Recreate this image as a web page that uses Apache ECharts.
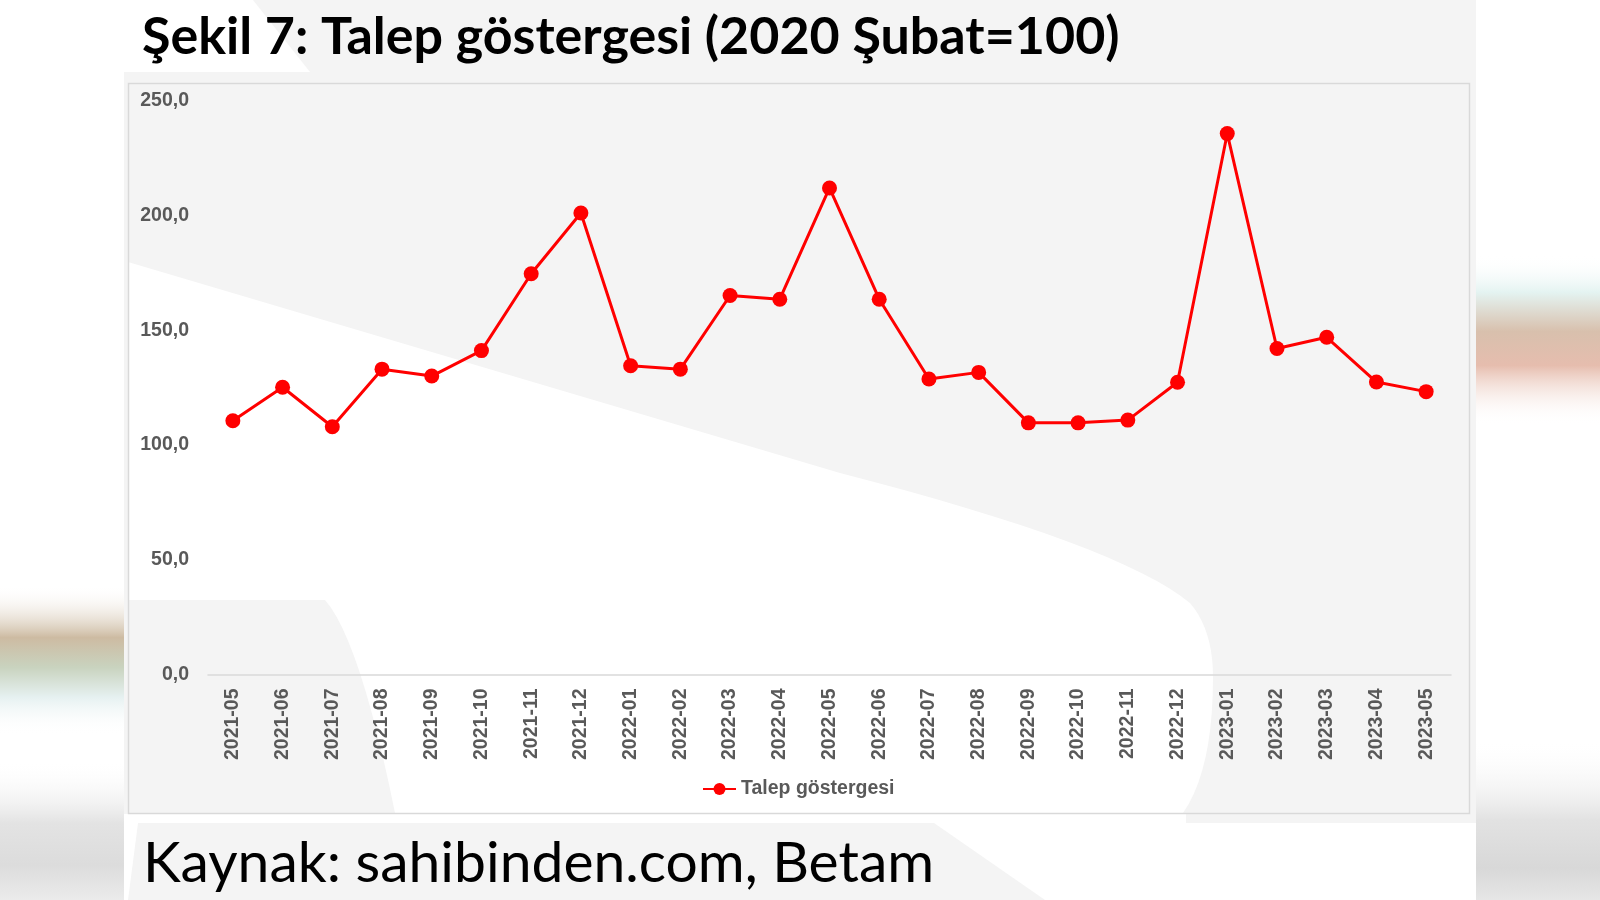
<!DOCTYPE html>
<html>
<head>
<meta charset="utf-8">
<script src="https://cdn.jsdelivr.net/npm/echarts@6/dist/echarts.min.js"></script>
<style>html,body{margin:0;padding:0;background:#fff;}#main{width:1600px;height:900px;}</style>
</head>
<body>
<div id="main"></div>
<script>
const categories = ['2021-05','2021-06','2021-07','2021-08','2021-09','2021-10','2021-11','2021-12','2022-01','2022-02','2022-03','2022-04','2022-05','2022-06','2022-07','2022-08','2022-09','2022-10','2022-11','2022-12','2023-01','2023-02','2023-03','2023-04','2023-05'];
const talepValues = [110.6,125.2,108.0,133.1,130.1,141.2,174.7,201.2,134.6,133.1,165.2,163.6,212.1,163.6,128.8,131.7,109.7,109.7,110.9,127.4,235.8,142.1,147.0,127.5,123.3];
const seriesName = 'Talep göstergesi';
const titleText = 'Şekil 7: Talep göstergesi (2020 Şubat=100)';
const sourceText = 'Kaynak: sahibinden.com, Betam';
const yTicks = {min: 0, max: 250, interval: 50};

const chart = echarts.init(document.getElementById('main'), null, {renderer: 'canvas'});
const axisFont = {fontFamily: '"Liberation Sans", Arial, sans-serif', fontWeight: 'bold', color: '#595959', fontSize: 19.5};

// decorative slide background (not data)
function quad(p0, p1, p2, n) {
  const out = [];
  for (let i = 1; i <= n; i++) {
    const t = i / n, u = 1 - t;
    out.push([u*u*p0[0] + 2*u*t*p1[0] + t*t*p2[0], u*u*p0[1] + 2*u*t*p1[1] + t*t*p2[1]]);
  }
  return out;
}
let wedge = [[128,262],[840,473]];
wedge = wedge.concat(quad([840,473],[1120,545],[1190,603],16));
wedge = wedge.concat(quad([1190,603],[1213,630],[1213,677],10));
wedge = wedge.concat(quad([1213,677],[1213,770],[1183,813],10));
wedge.push([395,813]);
wedge = wedge.concat(quad([395,813],[360,640],[325,600],12));
wedge.push([128,600]);

function vgrad(stops) {
  return {type: 'linear', x: 0, y: 0, x2: 0, y2: 1, colorStops: stops};
}

const bg = [
  {type: 'rect', z: -100, silent: true, shape: {x: 0, y: 585, width: 124, height: 150},
   style: {fill: vgrad([
     {offset:0,color:'rgba(255,255,255,0)'},{offset:0.35,color:'#cdbba2'},{offset:0.55,color:'#c9d3bf'},
     {offset:0.75,color:'#e6f1f1'},{offset:1,color:'rgba(255,255,255,0)'}])}},
  {type: 'rect', z: -100, silent: true, shape: {x: 0, y: 760, width: 124, height: 140},
   style: {fill: vgrad([
     {offset:0,color:'rgba(255,255,255,0)'},{offset:0.45,color:'#e3e3e3'},{offset:0.75,color:'#dcdcdc'},
     {offset:1,color:'#ebebeb'}])}},
  {type: 'rect', z: -100, silent: true, shape: {x: 1476, y: 255, width: 124, height: 170},
   style: {fill: vgrad([
     {offset:0,color:'rgba(255,255,255,0)'},{offset:0.22,color:'#e4f3f1'},{offset:0.45,color:'#d8c0ad'},
     {offset:0.65,color:'#e6bdae'},{offset:1,color:'rgba(255,255,255,0)'}])}},
  {type: 'rect', z: -100, silent: true, shape: {x: 1476, y: 740, width: 124, height: 160},
   style: {fill: vgrad([
     {offset:0,color:'rgba(255,255,255,0)'},{offset:0.5,color:'#e2e2e2'},{offset:0.8,color:'#d8d8d8'},
     {offset:1,color:'#e6e6e6'}])}},
  {type: 'rect', z: -99, silent: true, shape: {x: 124, y: 0, width: 1352, height: 900}, style: {fill: '#f4f4f4'}},
  {type: 'polygon', z: -98, silent: true, shape: {points: [[124,0],[253,0],[310,72],[124,72]]}, style: {fill: '#ffffff'}},
  {type: 'rect', z: -98, silent: true, shape: {x: 124, y: 814, width: 1062, height: 9}, style: {fill: '#ffffff'}},
  {type: 'polygon', z: -98, silent: true, shape: {points: [[934,823],[1476,823],[1476,900],[1045,900]]}, style: {fill: '#ffffff'}},
  {type: 'polygon', z: -98, silent: true, shape: {points: [[124,823],[138,823],[128,900],[124,900]]}, style: {fill: '#ffffff'}},
  {type: 'polygon', z: -97, silent: true, shape: {points: wedge}, style: {fill: '#ffffff'}},
  {type: 'rect', z: -96, silent: true, shape: {x: 128.5, y: 83.5, width: 1341, height: 730},
   style: {fill: 'none', stroke: '#d9d9d9', lineWidth: 1.5}}
];

chart.setOption({
  backgroundColor: '#ffffff',
  animation: false,
  title: [
    {text: titleText, left: 137, top: 6,
     textStyle: {fontFamily: 'Lato, "Open Sans", sans-serif', fontWeight: 'bold', fontSize: 52, color: '#000000'}},
    {text: sourceText, left: 138, top: 830,
     textStyle: {fontFamily: 'Lato, "Open Sans", sans-serif', fontWeight: 'normal', fontSize: 57, color: '#000000'}}
  ],
  graphic: bg,
  legend: {
    data: [seriesName], left: 697, top: 774, itemWidth: 33, itemHeight: 15, itemGap: 4,
    textStyle: axisFont
  },
  grid: {left: 208, right: 149, top: 101, bottom: 225.5, containLabel: false},
  xAxis: {
    type: 'category', data: categories, boundaryGap: true,
    axisLine: {lineStyle: {color: '#d9d9d9', width: 1.5}},
    axisTick: {show: false},
    axisLabel: Object.assign({rotate: 90, margin: 14, interval: 0}, axisFont)
  },
  yAxis: {
    type: 'value', min: yTicks.min, max: yTicks.max, interval: yTicks.interval,
    axisLine: {show: false}, axisTick: {show: false}, splitLine: {show: false},
    axisLabel: Object.assign({margin: 19, formatter: v => v.toFixed(1).replace('.', ',')}, axisFont)
  },
  series: [{
    name: seriesName, type: 'line', data: talepValues,
    color: '#ff0000',
    lineStyle: {color: '#ff0000', width: 3},
    itemStyle: {color: '#ff0000'},
    symbol: 'circle', symbolSize: 15
  }]
});
</script>
</body>
</html>
